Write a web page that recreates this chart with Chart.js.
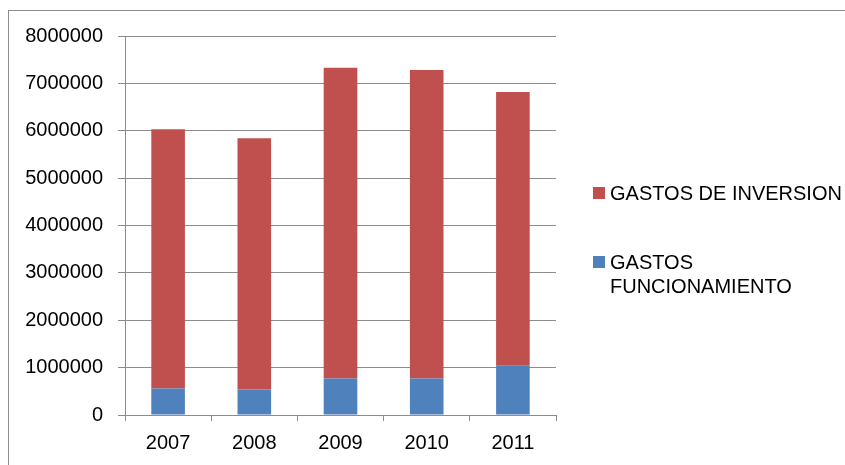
<!DOCTYPE html>
<html>
<head>
<meta charset="utf-8">
<script src="https://cdn.jsdelivr.net/npm/chart.js@4/dist/chart.umd.min.js"></script>
<style>
  body { margin: 0; background: #fff; }
  #wrap { position: relative; width: 845px; height: 465px; overflow: hidden; }
  #frame { position: absolute; left: 8px; top: 10px; width: 900px; height: 500px; border: 1px solid #8c8c8c; }
  #myChart { position: absolute; left: 0; top: 0; }
  .leg { position: absolute; left: 593px; font: 20px "Liberation Sans", Arial, sans-serif; color: #000; line-height: 24px; }
  .leg i { position: absolute; left: 0; top: 6px; width: 12px; height: 12px; }
  .leg span { display: block; margin-left: 17px; }
</style>
</head>
<body>
<div id="wrap">
  <div id="frame"></div>
  <canvas id="myChart" width="845" height="465"></canvas>
  <div class="leg" style="top:181px"><i style="background:#C0504D"></i><span>GASTOS DE INVERSION</span></div>
  <div class="leg" style="top:250px"><i style="background:#4F81BD"></i><span>GASTOS<br>FUNCIONAMIENTO</span></div>
</div>
<script>
// data
const years = ['2007', '2008', '2009', '2010', '2011'];
const funcionamiento = [560000, 540000, 770000, 770000, 1040000];
const inversion = [5470000, 5300000, 6560000, 6510000, 5780000];

var ctx = document.getElementById('myChart').getContext('2d');
var myChart = new Chart(ctx, {
    type: 'bar',
    data: {
        labels: years,
        datasets: [
            {
                label: 'GASTOS FUNCIONAMIENTO',
                data: funcionamiento,
                backgroundColor: '#4F81BD',
                barPercentage: 0.39,
                categoryPercentage: 1
            },
            {
                label: 'GASTOS DE INVERSION',
                data: inversion,
                backgroundColor: '#C0504D',
                barPercentage: 0.39,
                categoryPercentage: 1
            }
        ]
    },
    options: {
        responsive: false,
        animation: false,
        layout: {
            padding: { left: 0, top: 36, right: 289, bottom: 0 }
        },
        plugins: {
            legend: { display: false },
            tooltip: { enabled: false }
        },
        scales: {
            x: {
                stacked: true,
                afterFit: (scale) => { scale.height = 50; },
                grid: {
                    display: true,
                    drawOnChartArea: false,
                    offset: true,
                    tickLength: 6,
                    color: '#8c8c8c'
                },
                border: { color: '#8c8c8c' },
                ticks: {
                    padding: 10,
                    color: '#000',
                    font: { family: '"Liberation Sans", Arial, sans-serif', size: 20 }
                }
            },
            y: {
                stacked: true,
                min: 0,
                max: 8000000,
                afterFit: (scale) => { scale.width = 125; },
                grid: {
                    tickLength: 7,
                    color: '#8c8c8c'
                },
                border: { color: '#8c8c8c' },
                ticks: {
                    stepSize: 1000000,
                    padding: 15,
                    color: '#000',
                    font: { family: '"Liberation Sans", Arial, sans-serif', size: 20 },
                    callback: (v) => String(v)
                }
            }
        }
    }
});
</script>
</body>
</html>
